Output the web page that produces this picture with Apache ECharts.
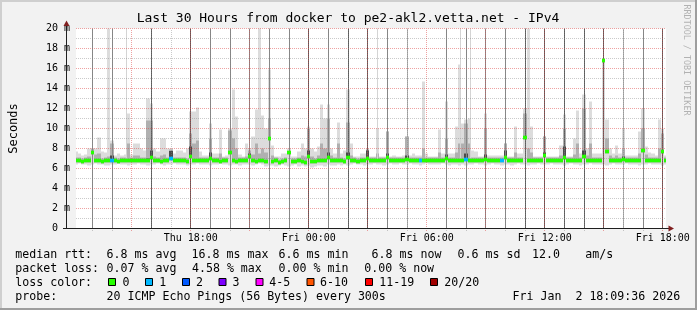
<!DOCTYPE html>
<html><head><meta charset="utf-8">
<script src="https://cdn.jsdelivr.net/npm/echarts@6/dist/echarts.min.js"></script>
<style>
html,body{margin:0;padding:0;background:#f2f2f2;}
#c{width:697px;height:310px;}
</style></head><body><div id="c"></div>
<script>
// ---------------- DATA ----------------
// 10-minute bins, first bin centred on Thu 12:10 (hours counted from Thu 00:00)
const binStartHour = 12 + 10/60;
const binHours = 10/60;
const viewStart = 12 + 10/60, viewEnd = 42 + 10/60;

const rttMedian = [
6.8,6.8,6.7,6.8,6.8,7.6,6.8,6.8,6.7,6.8,
6.8,6.8,6.8,6.7,6.8,6.8,6.8,6.8,6.8,6.8,
6.8,6.8,6.8,7.1,6.8,6.8,6.7,6.8,6.8,7.0,
6.8,6.8,6.8,6.8,6.7,7.2,6.8,6.8,6.8,6.8,
6.8,7.0,6.8,6.8,6.7,6.8,6.8,7.6,6.8,6.7,
6.8,6.8,6.8,7.2,6.8,6.7,6.8,6.8,6.7,9.0,
6.7,6.8,6.6,6.7,6.8,7.6,6.7,6.7,6.8,6.7,
6.6,7.2,6.7,6.7,6.8,6.8,6.8,7.1,6.8,6.8,
6.8,6.8,6.7,7.1,6.8,6.8,6.7,6.8,6.8,7.0,
6.8,6.8,6.8,6.8,6.8,7.1,6.8,6.8,6.8,6.8,
6.8,6.9,6.8,6.8,6.8,6.8,6.8,6.8,6.8,6.8,
6.8,6.8,6.8,7.0,6.8,6.8,6.8,6.8,6.8,6.9,
6.8,6.8,6.8,6.8,6.8,6.9,6.8,6.8,6.8,6.8,
6.8,7.1,6.8,6.8,6.8,6.8,6.8,9.1,6.8,6.8,
6.8,6.8,6.8,7.3,6.8,6.8,6.8,6.8,6.8,7.1,
6.8,6.8,6.8,6.8,6.8,7.2,6.8,6.8,6.8,6.8,
6.8,16.8,7.7,6.8,6.8,6.8,6.8,6.9,6.8,6.8,
6.8,6.8,6.8,7.8,6.8,6.8,6.8,6.8,6.8,7.7,
6.8];

const rttMin = [
6.4,6.5,6.4,6.4,6.3,6.4,6.5,6.4,6.4,6.3,
6.3,6.4,6.4,6.5,6.4,6.4,6.3,6.4,6.4,6.5,
6.4,6.4,6.3,6.4,6.4,6.5,6.4,6.3,6.4,6.4,
6.5,6.4,6.4,6.4,6.3,6.4,6.4,6.5,6.4,6.4,
6.4,6.3,6.4,6.4,6.5,6.4,6.4,6.3,6.4,6.4,
6.3,6.4,6.4,6.4,6.3,6.4,6.5,6.4,6.2,6.3,
6.3,6.2,6.3,6.4,6.3,6.2,6.3,6.4,6.2,6.3,
6.2,6.3,6.1,6.2,6.3,6.3,6.2,6.4,6.3,6.3,
6.4,6.3,6.4,6.3,6.4,6.5,6.4,6.4,6.3,6.4,
6.4,6.5,6.4,6.4,6.3,6.4,6.5,6.4,6.4,6.5,
6.4,6.4,6.5,6.4,6.4,6.3,6.4,6.5,6.4,6.4,
6.4,6.4,6.5,6.4,6.3,6.4,6.4,6.3,6.4,6.3,
6.4,6.4,6.5,6.4,6.4,6.3,6.4,6.5,6.4,6.4,
6.3,6.4,6.4,6.3,6.4,6.5,6.4,6.4,6.3,6.4,
6.4,6.5,6.4,6.4,6.4,6.5,6.4,6.4,6.4,6.3,
6.4,6.5,6.4,6.4,6.3,6.4,6.4,6.5,6.4,6.4,
6.4,6.4,6.3,6.4,6.5,6.4,6.4,6.4,6.5,6.4,
6.4,6.4,6.3,6.4,6.4,6.5,6.4,6.4,6.4,6.3,
6.4];

const rttP75 = [
6.9,6.9,6.8,6.9,6.9,7.75,6.9,6.9,6.8,6.9,
6.9,7.3,6.9,6.8,6.9,6.9,6.9,6.9,6.9,6.9,
6.9,6.9,7.0,7.8,6.9,6.9,6.8,6.9,6.9,7.75,
6.9,6.9,6.9,6.9,6.8,8.2,6.9,6.9,6.9,6.9,
6.9,7.6,6.9,6.9,6.8,6.9,6.9,7.7,6.9,6.8,
6.9,6.9,6.9,7.5,6.9,6.8,6.9,6.9,6.8,9.0,
6.8,6.9,6.7,6.8,6.9,7.6,6.8,6.8,6.9,6.8,
6.7,7.8,6.8,6.8,6.9,6.9,6.9,7.6,6.9,6.9,
6.9,6.9,6.8,7.6,6.9,6.9,6.8,6.9,6.9,7.8,
6.9,6.9,6.9,6.9,6.9,7.5,6.9,6.9,6.9,6.9,
6.9,7.3,6.9,6.9,6.9,6.9,6.9,6.9,6.9,6.9,
6.9,6.9,6.9,7.4,6.9,6.9,6.9,6.9,6.9,7.5,
6.9,6.9,6.9,6.9,6.9,7.4,6.9,6.9,6.9,6.9,
6.9,7.8,6.9,6.9,6.9,6.9,6.9,9.1,6.9,6.9,
6.9,6.9,6.9,7.6,6.9,6.9,6.9,6.9,6.9,8.2,
6.9,6.9,6.9,6.9,6.9,7.8,6.9,6.9,6.9,6.9,
6.9,16.7,7.7,6.9,6.9,6.9,6.9,7.2,6.9,6.9,
6.9,6.9,6.9,7.9,6.9,6.9,6.9,6.9,6.9,7.8,
6.9];

const rttP90 = [
7.1,7.1,7.0,7.1,7.2,8.0,7.4,7.5,7.0,7.1,
7.2,8.5,7.1,7.0,7.1,7.1,8.5,7.1,7.3,7.3,
7.1,7.1,10.8,10.8,7.2,7.1,7.3,7.4,7.1,7.9,
7.1,7.1,7.1,7.1,7.0,9.5,8.5,8.8,7.1,7.1,
7.1,9.0,7.1,7.1,7.5,7.1,7.1,9.8,9.0,8.0,
7.1,7.1,7.2,7.8,7.4,8.5,7.5,8.0,7.6,11.0,
7.3,7.1,6.9,7.0,7.1,7.6,7.0,7.0,7.1,7.3,
7.2,10.0,7.2,7.0,7.3,8.5,8.0,11.0,7.3,7.1,
8.5,7.1,7.0,10.6,7.3,7.1,7.0,7.1,7.1,7.9,
7.1,7.1,7.5,7.1,7.1,9.7,7.1,7.1,7.1,7.1,
7.1,9.2,7.1,7.1,7.1,7.1,8.0,7.1,7.1,7.1,
7.1,7.6,7.1,9.0,7.1,7.1,7.6,8.5,8.5,10.5,
8.5,7.1,7.1,7.1,7.1,10.0,7.1,7.1,7.1,7.1,
7.1,8.5,7.1,7.1,7.6,7.1,7.1,11.5,8.0,7.6,
7.1,7.1,7.1,9.2,7.1,7.1,7.1,7.1,7.3,10.0,
7.1,7.1,7.4,8.5,7.1,12.0,7.3,8.5,7.1,7.1,
7.1,16.8,9.0,7.3,7.1,7.3,7.1,8.0,7.1,7.1,
7.1,7.1,7.5,10.0,7.4,7.1,7.1,7.1,8.0,9.5,
7.1];

const rttMax = [
7.7,7.5,7.3,7.4,8.0,8.0,8.0,9.1,7.7,7.6,
21,8.8,7.3,7.5,7.3,7.4,11.5,7.4,8.5,8.5,
8.0,7.8,13.0,12.5,8.0,7.7,9.0,9.0,8.0,8.0,
7.5,7.8,7.8,7.6,8.0,11.7,11.7,12.1,7.7,7.3,
7.3,10.5,7.5,7.5,9.9,7.2,7.3,10.0,13.9,11.2,
7.4,7.2,8.5,8.0,9.2,11.9,21,11.3,10.0,15.9,
8.3,7.2,7.2,7.5,7.5,8.0,7.2,7.2,7.7,8.5,
8.0,10.2,8.0,7.7,8.2,12.4,11.0,12.4,8.0,7.5,
10.6,7.5,7.8,13.9,8.5,7.2,7.2,7.5,7.5,8.0,
7.2,7.2,10.0,7.2,7.2,9.7,7.2,7.3,7.2,7.2,
7.3,9.2,7.3,7.5,7.3,7.3,14.7,7.5,7.2,7.2,
7.2,9.9,7.5,12.7,7.5,7.5,10.2,16.4,10.5,10.9,
11.0,7.8,7.7,7.2,7.2,11.5,7.3,7.3,7.3,7.3,
7.3,8.5,7.2,7.2,10.2,7.5,7.5,12.0,21,10.2,
7.2,7.2,7.2,9.2,7.2,7.2,7.2,7.2,8.3,11.4,
7.2,7.2,9.0,11.8,7.5,13.4,8.0,12.7,7.5,7.5,
7.5,16.8,10.9,8.0,7.5,8.3,7.5,10.0,7.3,7.3,
7.3,7.3,9.7,12.0,8.2,7.6,7.5,7.3,10.9,10.0,
7.3];

// [bin index, pings lost out of 20]
const lossEvents = [[11,1],[29,1],[105,1],[119,1],[130,1]];

// hourly full-height smoke lines (hour of day counted from Thu 00:00)
const hourLinesDark  = [16,18,24,26,27,35,36,37,38,39,42];
const hourLinesMid   = [13,14,19,20,21,22,23,25,28,31,32,33,34,41];
const hourLinesLight = [29,40];
// thin single-ping towers that reach the top
const thinTowers = [14.75, 27.48, 31.73, 32.23];

const minorGridHours = [13,14,16,17,19,20,22,23,25,26,28,29,31,32,34,35,37,38,40,41];
const majorGridHours = [15,18,21,24,27,30,33,36,39,42];

const xTickHours  = [18,24,30,36,42];
const xTickLabels = ['Thu 18:00','Fri 00:00','Fri 06:00','Fri 12:00','Fri 18:00'];

const titleText = 'Last 30 Hours from docker to pe2-akl2.vetta.net - IPv4';
const yName = 'Seconds';
const rttRowLabel = 'median rtt:';
const rttStats = ['6.8 ms avg','16.8 ms max','6.6 ms min','6.8 ms now','0.6 ms sd','12.0','am/s'];
const lossRowLabel = 'packet loss:';
const lossStats = ['0.07 % avg','4.58 % max','0.00 % min','0.00 % now'];
const colorRowLabel = 'loss color:';
const lossLegendLabels = ['0','1','2','3','4-5','6-10','11-19','20/20'];
const probeRowLabel = 'probe:';
const probeText = '20 ICMP Echo Pings (56 Bytes) every 300s';
const stampText = 'Fri Jan  2 18:09:36 2026';
const watermark = 'RRDTOOL / TOBI OETIKER';

// ---------------- STYLE / LAYOUT ----------------
const MONO = '"DejaVu Sans Mono", monospace';
const lossColors = ['#26ff00','#00b8ff','#0059ff','#7e00ff','#ff00ff','#ff5500','#ff0000','#a10000'];
const lossBucket = n => n === 0 ? 0 : n === 1 ? 1 : n === 2 ? 2 : n === 3 ? 3 : n <= 5 ? 4 : n <= 10 ? 5 : n < 20 ? 6 : 7;
const rttStatX  = [106.6,191.6,278.6,371.6,457.6,532.0,585.3];
const lossStatX = [106.6,192.0,278.6,364.3];
const boxX   = [108.5,145.5,182.5,219.0,256.0,307.0,365.5,430.5];
const boxLabelX = [122.6,159.3,196.0,232.6,269.3,320.0,379.3,444.3];
const rowY = [254.5,268.5,282.5,296.5];
const PLOT = { x: 66, y: 28.5, w: 600, h: 200 };
const MINOR_GRID = 'rgba(128,128,128,0.42)', MAJOR_GRID = 'rgba(222,70,70,0.5)';

// ---------------- BUILD ----------------
const lossByBin = rttMedian.map(() => 0);
lossEvents.forEach(([i, n]) => { lossByBin[i] = n; });
const smokeData = rttMedian.map((m, i) => [binStartHour + i * binHours, rttMin[i], rttMax[i], rttP90[i], rttP75[i], m, lossByBin[i]]);

function clampX(cs, x) { return Math.min(Math.max(x, cs.x), cs.x + cs.width); }
function binEdges(params, api, t) {
  const cs = params.coordSys;
  const x0 = clampX(cs, Math.round(api.coord([t - binHours / 2, 0])[0]));
  const x1 = clampX(cs, Math.round(api.coord([t + binHours / 2, 0])[0]));
  return [x0, x1];
}
function canvasItem(params) {
  const cs = params.coordSys;
  return { type: 'rect', shape: { x: cs.x, y: cs.y, width: cs.width, height: cs.height }, style: { fill: '#ffffff' } };
}
function smokeItem(params, api) {
  const cs = params.coordSys;
  const t = api.value(0);
  const [x0, x1] = binEdges(params, api, t);
  const Y = v => Math.max(api.coord([t, v])[1], cs.y);
  const rect = (a, b, fill) => ({ type: 'rect', shape: { x: x0, y: Y(b), width: x1 - x0, height: Math.max(0, Y(a) - Y(b)) }, style: { fill } });
  const lo = api.value(1), hi = api.value(2), p90 = api.value(3), p75 = api.value(4), med = api.value(5);
  return { type: 'group', children: [rect(lo, hi, '#dcdcdc'), rect(med - 0.2, p90, '#b0b0b0'), rect(med, p75, '#4a4a4a')] };
}
function medianItem(params, api) {
  const t = api.value(0);
  const [x0, x1] = binEdges(params, api, t);
  const med = api.value(5);
  const yT = api.coord([t, med + 0.18])[1], yB = api.coord([t, med - 0.18])[1];
  return { type: 'rect', shape: { x: x0, y: yT, width: x1 - x0, height: yB - yT }, style: { fill: lossColors[lossBucket(api.value(6))] } };
}
function vline(color, fromVal) {
  return function (params, api) {
    const t = api.value(0);
    const x = Math.floor(api.coord([t, 0])[0]) + 0.5;
    const y0 = api.coord([t, fromVal ? api.value(1) : 0])[1];
    const y1 = api.coord([t, 20])[1];
    return { type: 'line', shape: { x1: x, y1: y0, x2: x, y2: y1 }, style: { stroke: color, lineWidth: 1 } };
  };
}
// vertical grid lines: [hour, 0, isMajor]
const vGridData = minorGridHours.map(h => [h, 0, 0]).concat(majorGridHours.map(h => [h, 0, 1]));
function vGridItem(params, api) {
  const a = api.value(0), major = api.value(2);
  const x = Math.floor(api.coord([a, 0])[0]) + 0.5;
  const shape = { x1: x, y1: Math.round(api.coord([a, 0])[1]) + 2, x2: x, y2: Math.round(api.coord([a, 20])[1]) };
  return { type: 'line', shape, style: { stroke: major ? MAJOR_GRID : MINOR_GRID, lineWidth: 1, lineDash: [1, 1] } };
}
const xLabelData = xTickHours.map((h, i) => [h, 0, i]);
function xLabelItem(params, api) {
  const h = api.value(0), idx = api.value(2);
  const p = api.coord([h, 0]);
  return { type: 'text', x: p[0], y: p[1] + 9.5, style: { text: xTickLabels[idx], font: '10px ' + MONO, fill: '#000', align: 'center', verticalAlign: 'middle', textAlign: 'center', textVerticalAlign: 'middle' } };
}

const txt = (x, y, s) => ({ type: 'text', x, y, z: 60, style: { text: s, font: '11.6px ' + MONO, fill: '#000', align: 'left', verticalAlign: 'middle', textAlign: 'left', textVerticalAlign: 'middle' } });
const graphics = [
  { type: 'rect', shape: { x: 0, y: 0, width: 697, height: 2 }, style: { fill: '#cfcfcf' }, z: 60 },
  { type: 'rect', shape: { x: 0, y: 0, width: 2, height: 310 }, style: { fill: '#cfcfcf' }, z: 60 },
  { type: 'rect', shape: { x: 0, y: 308, width: 697, height: 2 }, style: { fill: '#9e9e9e' }, z: 60 },
  { type: 'rect', shape: { x: 695, y: 0, width: 2, height: 310 }, style: { fill: '#9e9e9e' }, z: 60 },
  { type: 'text', x: 348, y: 19, z: 60, style: { text: titleText, font: '13px ' + MONO, fill: '#000', align: 'center', verticalAlign: 'middle', textAlign: 'center', textVerticalAlign: 'middle' } },
  { type: 'text', x: 686, y: 60, z: 60, rotation: -Math.PI / 2, style: { text: watermark, font: '8.4px ' + MONO, fill: '#b2b2b2', align: 'center', verticalAlign: 'middle', textAlign: 'center', textVerticalAlign: 'middle' } },
  { type: 'line', shape: { x1: 66.5, y1: 229, x2: 66.5, y2: 25 }, style: { stroke: '#1f1f1f', lineWidth: 1 }, z: 60 },
  { type: 'line', shape: { x1: 63, y1: 228.5, x2: 669, y2: 228.5 }, style: { stroke: '#1f1f1f', lineWidth: 1 }, z: 60 },
  { type: 'polygon', shape: { points: [[63.5, 26], [69.5, 26], [66.5, 20.5]] }, style: { fill: '#801f1f' }, z: 60 },
  { type: 'polygon', shape: { points: [[668.5, 225.5], [668.5, 231.5], [674, 228.5]] }, style: { fill: '#801f1f' }, z: 60 },
  txt(15.3, rowY[0], rttRowLabel), txt(15.3, rowY[1], lossRowLabel), txt(15.3, rowY[2], colorRowLabel), txt(15.3, rowY[3], probeRowLabel),
  txt(106.6, rowY[3], probeText), txt(512.6, rowY[3], stampText)
];
rttStats.forEach((s, i) => graphics.push(txt(rttStatX[i], rowY[0], s)));
lossStats.forEach((s, i) => graphics.push(txt(lossStatX[i], rowY[1], s)));
lossLegendLabels.forEach((s, i) => {
  graphics.push({ type: 'rect', z: 60, shape: { x: boxX[i], y: rowY[2] - 4, width: 7, height: 7 }, style: { fill: lossColors[i], stroke: '#000', lineWidth: 1 } });
  graphics.push(txt(boxLabelX[i], rowY[2], s));
});

const chart = echarts.init(document.getElementById('c'), null, { renderer: 'canvas' });
chart.setOption({
  animation: false,
  backgroundColor: '#f2f2f2',
  grid: { left: PLOT.x, top: PLOT.y, width: PLOT.w, height: PLOT.h, show: false },
  xAxis: { type: 'value', min: viewStart, max: viewEnd, axisLine: { show: false }, axisTick: { show: false }, axisLabel: { show: false }, splitLine: { show: false } },
  yAxis: {
    type: 'value', min: 0, max: 20, interval: 2, z: 4,
    name: yName, nameLocation: 'middle', nameGap: 56, nameRotate: 90,
    nameTextStyle: { fontFamily: MONO, fontSize: 12, color: '#000' },
    axisLine: { show: false }, axisTick: { show: false },
    splitLine: { show: true, lineStyle: { color: MAJOR_GRID, width: 1, type: [1, 1] } },
    minorTick: { show: false, splitNumber: 2 },
    minorSplitLine: { show: true, lineStyle: { color: MINOR_GRID, width: 1, type: [1, 1] } },
    axisLabel: { fontFamily: MONO, fontSize: 10, color: '#000', margin: 6, formatter: v => v === 0 ? '0  ' : v + ' m' }
  },
  graphic: { elements: graphics },
  series: [
    { type: 'custom', name: 'canvas', data: [[viewStart, 0]], renderItem: canvasItem, z: -5, silent: true },
    { type: 'custom', name: 'smoke', data: smokeData, renderItem: smokeItem, encode: { x: 0, y: 2 }, z: 2, silent: true },
    { type: 'custom', name: 'towers', data: thinTowers.map(h => [h, 6.9]), renderItem: vline('#d4d4d4', true), z: 2, silent: true },
    { type: 'custom', name: 'hourDark', data: hourLinesDark.map(h => [h, 0]), renderItem: vline('#5c5c5c'), z: 3, silent: true },
    { type: 'custom', name: 'hourMid', data: hourLinesMid.map(h => [h, 0]), renderItem: vline('#888888'), z: 3, silent: true },
    { type: 'custom', name: 'hourLight', data: hourLinesLight.map(h => [h, 0]), renderItem: vline('#adadad'), z: 3, silent: true },
    { type: 'custom', name: 'vgrid', data: vGridData, renderItem: vGridItem, z: 4, silent: true, clip: false },
    { type: 'custom', name: 'median', data: smokeData, renderItem: medianItem, encode: { x: 0, y: 5 }, z: 5, silent: true },
    { type: 'custom', name: 'xlabels', data: xLabelData, renderItem: xLabelItem, z: 6, silent: true, clip: false }
  ]
});
</script></body></html>
